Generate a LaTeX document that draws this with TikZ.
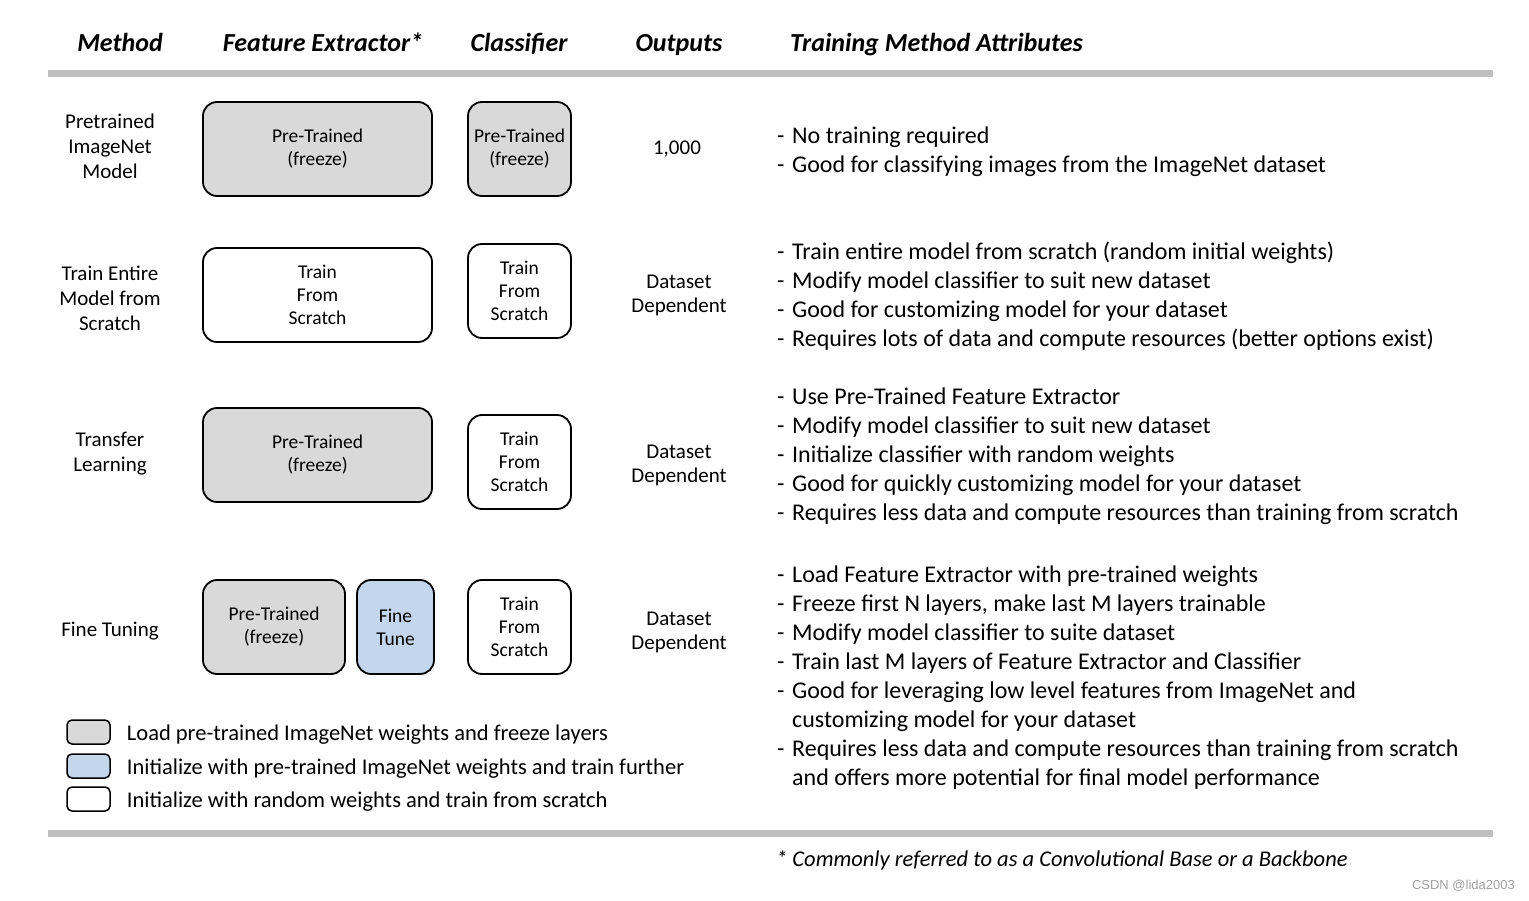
\documentclass[tikz,border=0pt]{standalone}
\usepackage{fontspec}
\setmainfont{Carlito}
\newfontfamily\wmfont{Liberation Sans}
\usetikzlibrary{positioning}
\definecolor{frozengray}{RGB}{217,217,217}
\definecolor{tuneblue}{RGB}{196,214,236}
\definecolor{rulegray}{RGB}{191,191,191}
\definecolor{wmgray}{RGB}{160,160,160}
\tikzset{%
  mybox/.style={draw=black, line width=1.8pt, rounded corners=14pt, align=center, inner sep=0pt, font=\fontsize{19.5}{23}\selectfont},
  frozen/.style={mybox, fill=frozengray},
  tuned/.style={mybox, fill=tuneblue},
  scratch/.style={mybox, fill=white},
  header/.style={anchor=base, inner sep=0pt, font=\fontsize{26}{30}\selectfont\bfseries\itshape},
  method/.style={align=center, font=\fontsize{21}{25}\selectfont},
  outputs/.style={align=center, font=\fontsize{21}{24}\selectfont},
  attrs/.style={anchor=west, align=left, inner sep=0pt, font=\fontsize{24}{29}\selectfont},
  legendbox/.style={draw=black, line width=1.5pt, rounded corners=5pt, minimum width=43, minimum height=24, inner sep=0pt},
  legendtext/.style={anchor=west, inner sep=0pt, yshift=-2.5pt, font=\fontsize{22.5}{26}\selectfont},
  rule/.style={draw=rulegray, line width=7pt}
}
\newcommand{\itm}{\makebox[15pt][l]{-}}
\newcommand{\cont}{\hspace*{15pt}}

\begin{document}
\begin{tikzpicture}[x=1pt, y=-1pt]
  \useasboundingbox (0,0) rectangle (1529,901);
  % headers
  \node[header] (hmethod) at (120,52) {Method};
  \node[header] (hfe) at (323,52) {Feature Extractor*};
  \node[header] (hclf) at (519,52) {Classifier};
  \node[header] (hout) at (679,52) {Outputs};
  \node[header, anchor=base west] (hattr) at (790,52) {Training Method Attributes};
  \draw[rule] (48,74) -- (1493,74);
  \draw[rule] (48,833) -- (1493,833);
  % row 1
  \node[method] (m1) at (110,146) {Pretrained\\ImageNet\\Model};
  \node[frozen, minimum width=229, minimum height=94] (fe1) at (317.5,149) {Pre-Trained\\(freeze)};
  \node[frozen, minimum width=103, minimum height=94] (c1) at (519.5,149) {Pre-Trained\\(freeze)};
  \node[outputs] (o1) at (677,149) {1,000};
  \node[attrs] (a1) at (777,152) {\itm No training required\\
    \itm Good for classifying images from the ImageNet dataset};
  % row 2
  \node[method] (m2) at (110,298) {Train Entire\\Model from\\Scratch};
  \node[scratch, minimum width=229, minimum height=94] (fe2) at (317.5,295) {Train\\From\\Scratch};
  \node[scratch, minimum width=103, minimum height=94] (c2) at (519.5,291) {Train\\From\\Scratch};
  \node[outputs] (o2) at (679,295) {Dataset\\Dependent};
  \node[attrs] (a2) at (777,296) {\itm Train entire model from scratch (random initial weights)\\
    \itm Modify model classifier to suit new dataset\\
    \itm Good for customizing model for your dataset\\
    \itm Requires lots of data and compute resources (better options exist)};
  % row 3
  \node[method] (m3) at (110,454) {Transfer\\Learning};
  \node[frozen, minimum width=229, minimum height=94] (fe3) at (317.5,455) {Pre-Trained\\(freeze)};
  \node[scratch, minimum width=103, minimum height=94] (c3) at (519.5,462) {Train\\From\\Scratch};
  \node[outputs] (o3) at (679,465) {Dataset\\Dependent};
  \node[attrs] (a3) at (777,456.5) {\itm Use Pre-Trained Feature Extractor\\
    \itm Modify model classifier to suit new dataset\\
    \itm Initialize classifier with random weights\\
    \itm Good for quickly customizing model for your dataset\\
    \itm Requires less data and compute resources than training from scratch};
  % row 4
  \node[method] (m4) at (110,631) {Fine Tuning};
  \node[frozen, minimum width=142, minimum height=94] (fe4) at (274,627) {Pre-Trained\\(freeze)};
  \node[tuned, minimum width=77, minimum height=94] (ft4) at (395.5,627) {Fine\\Tune};
  \node[scratch, minimum width=103, minimum height=94] (c4) at (519.5,627) {Train\\From\\Scratch};
  \node[outputs] (o4) at (679,632) {Dataset\\Dependent};
  \node[attrs] (a4) at (777,678) {\itm Load Feature Extractor with pre-trained weights\\
    \itm Freeze first N layers, make last M layers trainable\\
    \itm Modify model classifier to suite dataset\\
    \itm Train last M layers of Feature Extractor and Classifier\\
    \itm Good for leveraging low level features from ImageNet and\\
    \cont customizing model for your dataset\\
    \itm Requires less data and compute resources than training from scratch\\
    \cont and offers more potential for final model performance};
  % legend
  \node[legendbox, fill=frozengray] (lg1) at (88.5,732) {};
  \node[legendbox, fill=tuneblue] (lg2) at (88.5,766) {};
  \node[legendbox, fill=white] (lg3) at (88.5,799) {};
  \node[legendtext, right=16pt of lg1] (lt1) {Load pre-trained ImageNet weights and freeze layers};
  \node[legendtext, right=16pt of lg2] (lt2) {Initialize with pre-trained ImageNet weights and train further};
  \node[legendtext, right=16pt of lg3] (lt3) {Initialize with random weights and train from scratch};
  % footnote
  \node[anchor=west, inner sep=0pt, font=\fontsize{22.5}{26}\selectfont\itshape] (note) at (776,860) {* Commonly referred to as a Convolutional Base or a Backbone};
  \node[anchor=east, inner sep=0pt, text=wmgray, font=\wmfont\fontsize{13}{15}\selectfont] (wm) at (1515,886) {CSDN @lida2003};
\end{tikzpicture}
\end{document}
